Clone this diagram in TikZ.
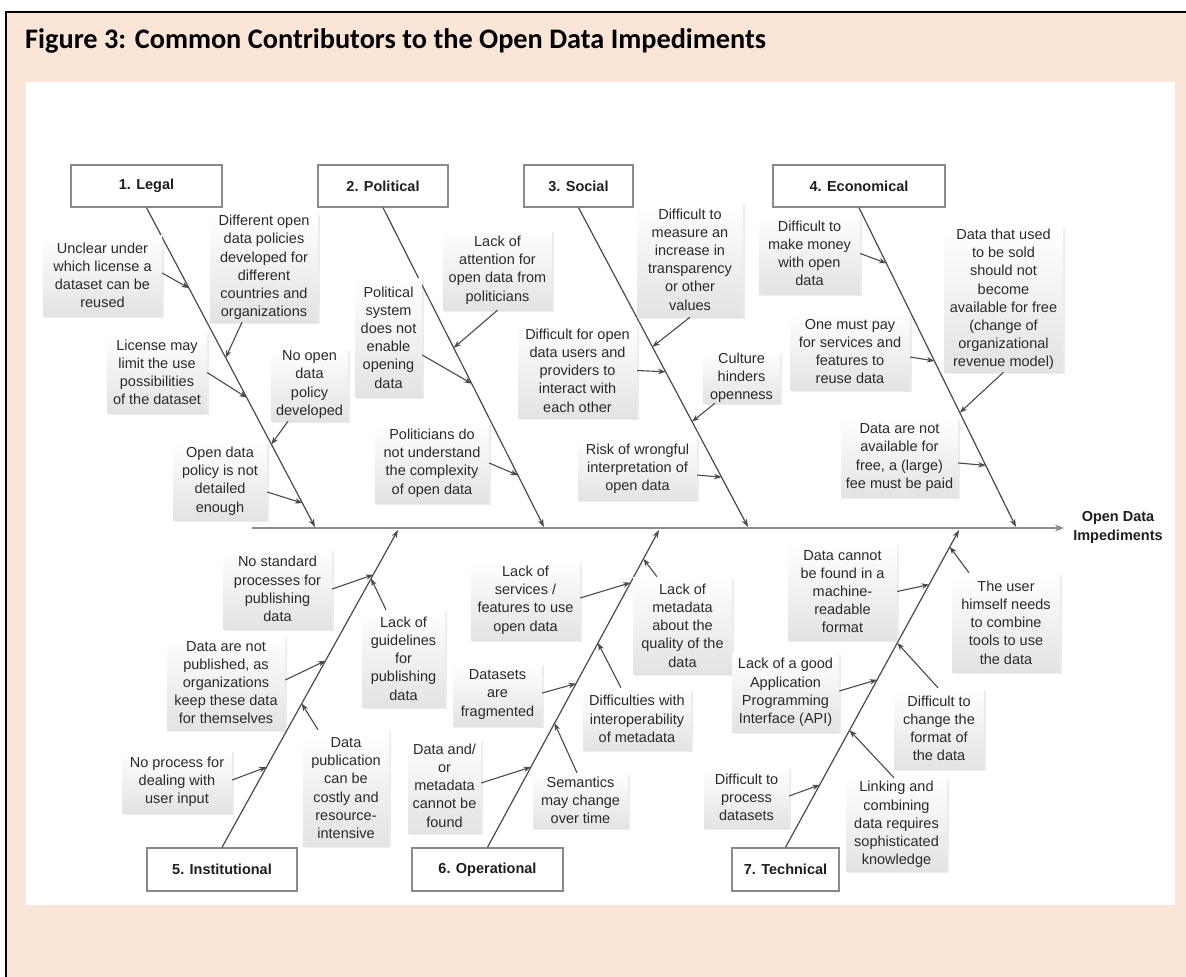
\documentclass[tikz,border=0pt]{standalone}
\usepackage{fontspec}
\setmainfont{Liberation Sans}
\newfontfamily\titlefont{Carlito}
\usetikzlibrary{calc,arrows.meta,shadows}
\definecolor{peach}{HTML}{FBE5D6}
\definecolor{txt}{HTML}{2A2A2A}
\definecolor{spinec}{HTML}{4A4A4A}
\definecolor{catline}{HTML}{8A8A8A}
\definecolor{mainln}{HTML}{8C8C8C}
\begin{document}
\begin{tikzpicture}[x=1pt,y=-1pt,
  cause/.style={inner sep=0pt, align=center, text=txt,
    font=\fontsize{14.5}{18.2}\selectfont,
    top color=white, bottom color=black!11,
    drop shadow={shadow xshift=1.5pt,shadow yshift=-1.5pt,opacity=0.15}},
  cat/.style={draw=catline, line width=1.3pt, fill=white, inner sep=0pt,
    font=\bfseries\fontsize{14.5}{18}\selectfont, text=black!88,
    minimum height=42pt,
    drop shadow={shadow xshift=1.2pt,shadow yshift=-1.2pt,opacity=0.15}},
  spinel/.style={draw=spinec, line width=1.2pt, -{Stealth[length=8pt,width=5.5pt]}},
  arr/.style={draw=spinec, line width=1.1pt, -{Stealth[length=7.5pt,width=5.5pt]}},
  mainl/.style={draw=mainln, line width=2pt, -{Stealth[length=9pt,width=7pt]}},
]
\useasboundingbox (0,0) rectangle (1186,977);
\fill[white] (0,0) rectangle (1186,977);
\fill[peach] (6,12) rectangle (1186,977);
\draw[black, line width=2pt] (6,977) -- (6,12) -- (1186,12);
\fill[white] (26,82) rectangle (1175,905);

\node[anchor=base west, inner sep=0pt, font=\titlefont\bfseries\fontsize{28.3}{34}\selectfont] (title) at (25,48) {Figure 3: Common Contributors to the Open Data Impediments};

% main line
\coordinate (mS) at (252,528);
\coordinate (mE) at (1064,528);
\draw[mainl] (mS) -- (mE);
\node[align=center, inner sep=0pt, font=\bfseries\fontsize{14.5}{18.5}\selectfont, text=black!88] (effect) at (1118,527.5) {Open Data\\Impediments};

% junctions
\coordinate (jL) at (315,527);
\coordinate (jP) at (544,527);
\coordinate (jS) at (748,527);
\coordinate (jE) at (1016,527);
\coordinate (jI) at (398,530);
\coordinate (jO) at (659,530);
\coordinate (jT) at (959,530);

% category boxes
\node[cat, minimum width=151pt] (legal) at (146.5,186) {1. Legal};
\node[cat, minimum width=130pt] (political) at (383,186) {2. Political};
\node[cat, minimum width=109pt] (social) at (578.5,186) {3. Social};
\node[cat, minimum width=172pt] (econ) at (859,186) {4. Economical};
\node[cat, minimum width=150pt, minimum height=43pt] (inst) at (222,869.5) {5. Institutional};
\node[cat, minimum width=151pt, minimum height=43pt] (oper) at (487.5,869.5) {6. Operational};
\node[cat, minimum width=107pt, minimum height=43pt] (tech) at (785.5,869.5) {7. Technical};

% spines
\draw[spinel] (legal.south) -- (jL);
\draw[spinel] (political.south) -- (jP);
\draw[spinel] (social.south) -- (jS);
\draw[spinel] (econ.south) -- (jE);
\draw[spinel] (inst.north) -- (jI);
\draw[spinel] (oper.north) -- (jO);
\draw[spinel] (tech.north) -- (jT);

% ---- Legal causes
\node[cause, minimum width=119pt, minimum height=81pt] (L1) at (102.5,275.5) {Unclear under\\which license a\\dataset can be\\reused};
\node[cause, minimum width=108pt, minimum height=109pt] (L2) at (264,267.5) {Different open\\data policies\\developed for\\different\\countries and\\organizations};
\node[cause, minimum width=100pt, minimum height=81pt] (L3) at (157,372.5) {License may\\limit the use\\possibilities\\of the dataset};
\node[cause, minimum width=77pt, minimum height=73pt] (L4) at (309.5,384.5) {No open\\data\\policy\\developed};
\node[cause, minimum width=94pt, minimum height=78pt] (L5) at (220,481) {Open data\\policy is not\\detailed\\enough};
\draw[arr] (L1.east |- 0,273) -- ($(legal.south)!0.252!(jL)$);
\draw[arr] (L2.south -| 242,0) -- ($(legal.south)!0.470!(jL)$);
\draw[arr] (L3.east) -- ($(legal.south)!0.595!(jL)$);
\draw[arr] (L4.south -| 288,0) -- ($(legal.south)!0.741!(jL)$);
\draw[arr] (L5.east |- 0,492) -- ($(legal.south)!0.925!(jL)$);

% ---- Political causes
\node[cause, minimum width=109pt, minimum height=80pt] (P1) at (497.5,270) {Lack of\\attention for\\open data from\\politicians};
\node[cause, minimum width=67pt, minimum height=119pt] (P2) at (388.5,337.5) {Political\\system\\does not\\enable\\opening\\data};
\node[cause, minimum width=114pt, minimum height=80pt] (P3) at (432,463) {Politicians do\\not understand\\the complexity\\of open data};
\draw[arr] (P1.south) -- ($(political.south)!0.439!(jP)$);
\draw[arr] (P2.east |- 0,355) -- ($(political.south)!0.551!(jP)$);
\draw[arr] (P3.east) -- ($(political.south)!0.838!(jP)$);

% ---- Social causes
\node[cause, minimum width=106pt, minimum height=115pt] (S1) at (690,259.5) {Difficult to\\measure an\\increase in\\transparency\\or other\\values};
\node[cause, minimum width=119pt, minimum height=95pt] (S2) at (577.5,370.5) {Difficult for open\\data users and\\providers to\\interact with\\each other};
\node[cause, minimum width=77pt, minimum height=51pt] (S3) at (741.5,377.5) {Culture\\hinders\\openness};
\node[cause, minimum width=119pt, minimum height=63pt] (S4) at (637.5,468.5) {Risk of wrongful\\interpretation of\\open data};
\draw[arr] (S1.south) -- ($(social.south)!0.436!(jS)$);
\draw[arr] (S2.east) -- ($(social.south)!0.514!(jS)$);
\draw[arr] (S3.south -| 715,0) -- ($(social.south)!0.670!(jS)$);
\draw[arr] (S4.east |- 0,475) -- ($(social.south)!0.844!(jS)$);

% ---- Economical causes
\node[cause, minimum width=101pt, minimum height=81pt] (E1) at (809.5,253.5) {Difficult to\\make money\\with open\\data};
\node[cause, minimum width=120pt, minimum height=77pt] (E2) at (850,351.5) {One must pay\\for services and\\features to\\reuse data};
\node[cause, minimum width=119pt, minimum height=145pt] (E3) at (1003.5,299.5) {Data that used\\to be sold\\should not\\become\\available for free\\(change of\\organizational\\revenue model)};
\node[cause, minimum width=117pt, minimum height=79pt] (E4) at (899.5,457.5) {Data are not\\available for\\free, a (large)\\fee must be paid};
\draw[arr] (E1.east) -- ($(econ.south)!0.174!(jE)$);
\draw[arr] (E2.east |- 0,357) -- ($(econ.south)!0.480!(jE)$);
\draw[arr] (E3.south) -- ($(econ.south)!0.642!(jE)$);
\draw[arr] (E4.east |- 0,463) -- ($(econ.south)!0.807!(jE)$);

% ---- Institutional causes
\node[cause, minimum width=109pt, minimum height=80pt] (I1) at (277.5,589) {No standard\\processes for\\publishing\\data};
\node[cause, minimum width=83pt, minimum height=97pt] (I2) at (403.5,658.5) {Lack of\\guidelines\\for\\publishing\\data};
\node[cause, minimum width=118pt, minimum height=95pt] (I3) at (226,682.5) {Data are not\\published, as\\organizations\\keep these data\\for themselves};
\node[cause, minimum width=86pt, minimum height=116pt] (I4) at (346,788) {Data\\publication\\can be\\costly and\\resource-\\intensive};
\node[cause, minimum width=110pt, minimum height=63pt] (I5) at (177,781.5) {No process for\\dealing with\\user input};
\draw[arr] (I1.east) -- ($(inst.north)!0.859!(jI)$);
\draw[arr] (I2.north -| 386,0) -- ($(inst.north)!0.847!(jI)$);
\draw[arr] (I3.east |- 0,680) -- ($(inst.north)!0.588!(jI)$);
\draw[arr] (I4.north -| 318,0) -- ($(inst.north)!0.453!(jI)$);
\draw[arr] (I5.east |- 0,780) -- ($(inst.north)!0.253!(jI)$);

% ---- Operational causes
\node[cause, minimum width=109pt, minimum height=80pt] (O1) at (525.5,600) {Lack of\\services /\\features to use\\open data};
\node[cause, minimum width=99pt, minimum height=97pt] (O2) at (682.5,625.5) {Lack of\\metadata\\about the\\quality of the\\data};
\node[cause, minimum width=89pt, minimum height=63pt] (O3) at (497.5,694.5) {Datasets\\are\\fragmented};
\node[cause, minimum width=108pt, minimum height=62pt] (O4) at (637,719) {Difficulties with\\interoperability\\of metadata};
\node[cause, minimum width=73pt, minimum height=95pt] (O5) at (444.5,785.5) {Data and/\\or\\metadata\\cannot be\\found};
\node[cause, minimum width=95pt, minimum height=55pt] (O6) at (580.5,800.5) {Semantics\\may change\\over time};
\draw[arr] (O1.east |- 0,598) -- ($(oper.north)!0.834!(jO)$);
\draw[arr] (O2.north -| 657,0) -- ($(oper.north)!0.909!(jO)$);
\draw[arr] (O3.east |- 0,693) -- ($(oper.north)!0.516!(jO)$);
\draw[arr] (O4.north -| 621,0) -- ($(oper.north)!0.644!(jO)$);
\draw[arr] (O5.east |- 0,783) -- ($(oper.north)!0.253!(jO)$);
\draw[arr] (O6.north -| 577,0) -- ($(oper.north)!0.391!(jO)$);

% ---- Technical causes
\node[cause, minimum width=109pt, minimum height=97pt] (T1) at (842.5,591.5) {Data cannot\\be found in a\\machine-\\readable\\format};
\node[cause, minimum width=108pt, minimum height=99pt] (T2) at (1006,622.5) {The user\\himself needs\\to combine\\tools to use\\the data};
\node[cause, minimum width=107pt, minimum height=79pt] (T3) at (785.5,692.5) {Lack of a good\\Application\\Programming\\Interface (API)};
\node[cause, minimum width=90pt, minimum height=81pt] (T4) at (939,728.5) {Difficult to\\change the\\format of\\the data};
\node[cause, minimum width=85pt, minimum height=61pt] (T5) at (746.5,797.5) {Difficult to\\process\\datasets};
\node[cause, minimum width=101pt, minimum height=93pt] (T6) at (896.5,824.5) {Linking and\\combining\\data requires\\sophisticated\\knowledge};
\draw[arr] (T1.east) -- ($(tech.north)!0.828!(jT)$);
\draw[arr] (T2.north -| 969,0) -- ($(tech.north)!0.947!(jT)$);
\draw[arr] (T3.east |- 0,691) -- ($(tech.north)!0.528!(jT)$);
\draw[arr] (T4.north -| 938,0) -- ($(tech.north)!0.644!(jT)$);
\draw[arr] (T5.east |- 0,796) -- ($(tech.north)!0.197!(jT)$);
\draw[arr] (T6.north -| 894,0) -- ($(tech.north)!0.369!(jT)$);
\end{tikzpicture}
\end{document}
